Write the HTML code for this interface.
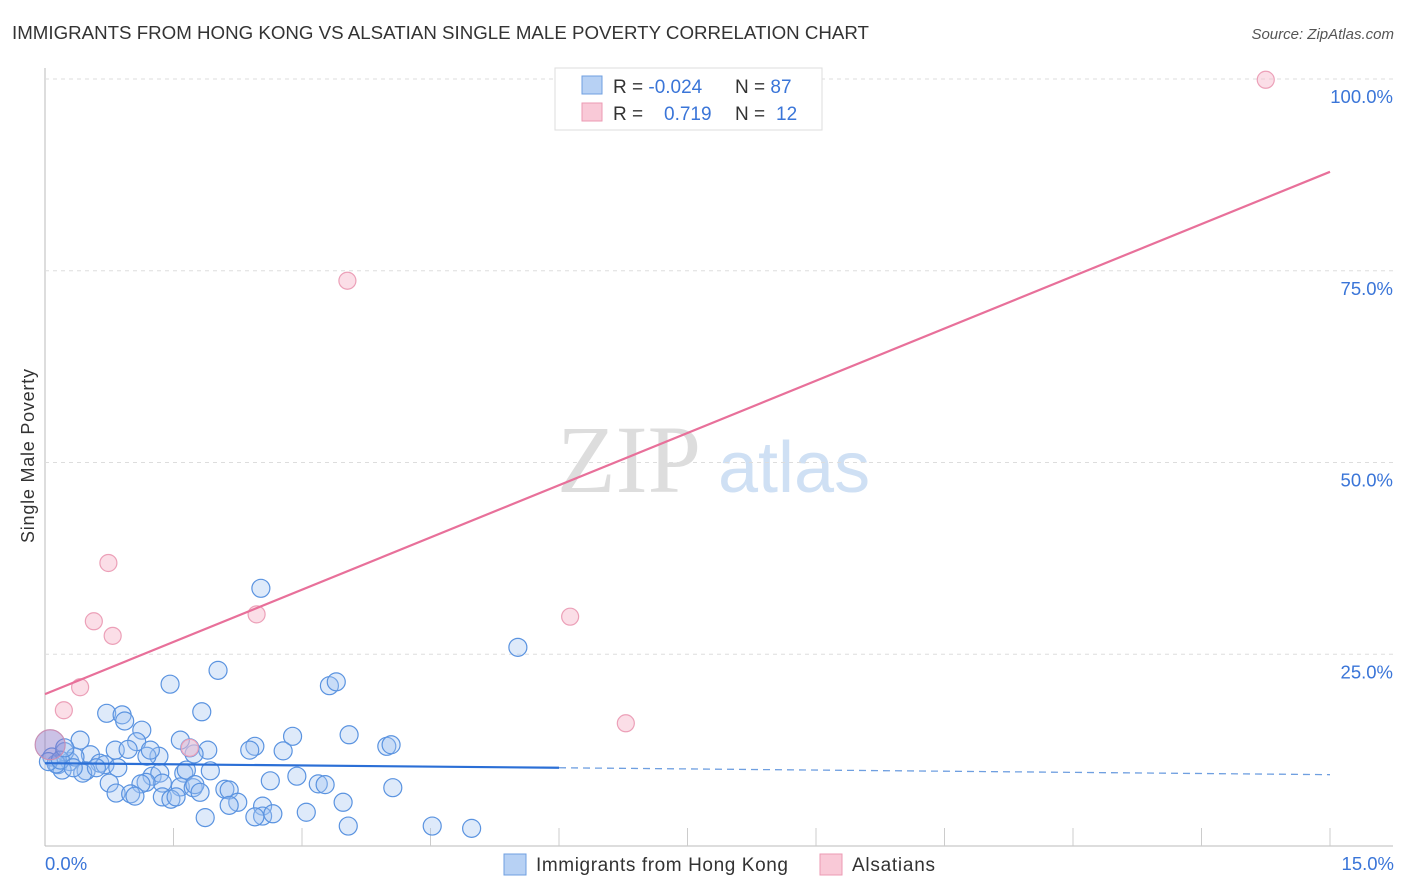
<!DOCTYPE html>
<html><head><meta charset="utf-8">
<style>
body{margin:0;background:#fff;font-family:"Liberation Sans",sans-serif;}
svg{display:block}
</style></head>
<body>
<svg id="c" width="1406" height="892" xmlns="http://www.w3.org/2000/svg">
<text x="12" y="39" font-size="18" fill="#333" textLength="857" lengthAdjust="spacingAndGlyphs">IMMIGRANTS FROM HONG KONG VS ALSATIAN SINGLE MALE POVERTY CORRELATION CHART</text>
<text x="1394" y="39" font-size="15" fill="#555" font-style="italic" text-anchor="end">Source: ZipAtlas.com</text>
<text transform="translate(34,456) rotate(-90)" font-size="18" fill="#333" text-anchor="middle" textLength="174">Single Male Poverty</text>
<g>
<text x="557" y="492" font-size="96" fill="#ddd" font-family="Liberation Serif,serif">ZIP</text>
<text x="718" y="492" font-size="72" fill="#cfe0f4">atlas</text>
</g>
<g id="grid"></g>
<g id="marks"></g>
<g>
<rect x="555" y="68" width="267" height="62" fill="#fff" stroke="#ddd"/>
<rect x="582" y="76" width="20" height="18" fill="#b7d1f4" stroke="#6f9fe0"/>
<rect x="582" y="103" width="20" height="18" fill="#f9c9d7" stroke="#ec9ab3"/>
<text x="613" y="93" font-size="19" fill="#333">R = <tspan fill="#3a75d8">-0.024</tspan></text>
<text x="735" y="93" font-size="19" fill="#333">N = <tspan fill="#3a75d8">87</tspan></text>
<text x="613" y="120" font-size="19" fill="#333">R = <tspan fill="#3a75d8" x="664">0.719</tspan></text>
<text x="735" y="120" font-size="19" fill="#333">N = <tspan fill="#3a75d8" x="776">12</tspan></text>
</g>
<g>
<rect x="504" y="854" width="22" height="21" fill="#b7d1f4" stroke="#6f9fe0"/>
<text x="536" y="871" font-size="19" fill="#333" textLength="252">Immigrants from Hong Kong</text>
<rect x="820" y="854" width="22" height="21" fill="#f9c9d7" stroke="#ec9ab3"/>
<text x="852" y="871" font-size="19" fill="#333" textLength="83">Alsatians</text>
</g>
</svg>
<script>
const blueX=[2.52,5.52,2.02,1.46,3.32,3.40,0.72,1.83,0.90,0.93,1.13,3.55,2.89,0.41,1.07,3.99,4.04,2.45,2.39,2.78,1.90,0.82,0.97,1.33,1.19,1.74,1.69,0.15,0.08,0.29,0.53,0.23,0.35,0.64,0.70,0.48,0.20,0.85,1.25,1.34,1.62,1.65,1.93,2.94,3.19,3.27,2.63,1.58,1.37,1.18,1.12,2.10,1.73,1.75,0.44,0.75,0.83,1.00,1.05,1.37,1.47,1.53,2.15,1.81,2.25,2.15,2.54,3.48,4.06,2.54,2.45,2.66,1.87,3.05,3.54,4.52,4.98,0.13,0.04,0.18,0.33,0.60,1.23,1.58,0.23];
const blueY=[33.6,25.9,22.9,21.1,20.9,21.4,17.3,17.5,17.1,16.3,15.1,14.5,14.3,13.8,13.6,13.0,13.2,13.0,12.5,12.4,12.5,12.5,12.6,11.7,11.7,12.0,12.8,10.6,11.6,11.0,11.9,12.3,11.6,10.8,10.6,9.8,9.9,10.2,9.1,9.5,9.5,9.9,9.8,9.1,8.1,8.0,8.5,7.7,8.2,8.3,8.1,7.4,7.6,8.0,9.5,8.2,6.9,6.8,6.5,6.4,6.1,6.4,7.3,7.0,5.7,5.3,5.2,5.7,7.6,3.9,3.8,4.2,3.7,4.4,2.6,2.6,2.3,10.7,11.0,11.2,10.2,10.2,12.5,13.8,12.8];
const pinkX=[14.25,3.53,0.74,0.57,0.79,2.47,6.13,0.41,0.22,6.78,1.69];
const pinkY=[99.9,73.7,36.9,29.3,27.4,30.2,29.9,20.7,17.7,16.0,12.8];
const bigX=[0.06], bigY=[13.2];
const pinkTrend=[19.8,87.9];
const blueTrend=[10.8,9.3];
const yTicks=[25,50,75,100];
const xTickLabels=["0.0%","15.0%"];
const NS="http://www.w3.org/2000/svg";
const X0=45,X1=1330,Y0=846,Y1=79;
function sx(v){return X0+(v/15)*(X1-X0);}
function sy(v){return Y0-(v/100)*(Y0-Y1);}
function mk(t,a,p){const e=document.createElementNS(NS,t);for(const k in a)e.setAttribute(k,a[k]);p.appendChild(e);return e;}
const grid=document.getElementById('grid'),marks=document.getElementById('marks');
let ax=mk('line',{x1:X0,y1:68,x2:X0,y2:Y0,stroke:'#bbb'},grid);


let bx=mk('line',{x1:X0,y1:Y0,x2:1393,y2:Y0,stroke:'#bbb'},grid);


yTicks.forEach(t=>{
 const g=mk('line',{x1:X0,y1:sy(t),x2:1393,y2:sy(t),stroke:'#ddd','stroke-dasharray':'4,4'},grid);
 
 
 const l=mk('text',{x:1393,y:sy(t)+24,'font-size':18.5,fill:'#3a75d8','text-anchor':'end'},grid);
 l.textContent=t.toFixed(1)+'%';
 
 
});
for(let i=1;i<=10;i++){
 const tk=mk('line',{x1:sx(i*1.5),y1:Y0-18,x2:sx(i*1.5),y2:Y0,stroke:'#ccc'},grid);
 
 
}
const xl0=mk('text',{x:45,y:870,'font-size':18.5,fill:'#3a75d8'},grid);xl0.textContent=xTickLabels[0];


const xl1=mk('text',{x:1394,y:870,'font-size':18.5,fill:'#3a75d8','text-anchor':'end'},grid);xl1.textContent=xTickLabels[1];


blueX.forEach((v,i)=>{
 const c=mk('circle',{cx:sx(v),cy:sy(blueY[i]),r:9,fill:'rgba(160,196,240,0.35)',stroke:'#5a93e0','stroke-width':1.2},marks);
 
 
});
pinkX.forEach((v,i)=>{
 const c=mk('circle',{cx:sx(v),cy:sy(pinkY[i]),r:8.5,fill:'rgba(248,190,208,0.5)',stroke:'#eca0b8','stroke-width':1.2},marks);
 
 
});
bigX.forEach((v,i)=>{
 const c=mk('circle',{cx:sx(v),cy:sy(bigY[i]),r:15,fill:'rgba(140,120,200,0.45)',stroke:'#c88fb5','stroke-width':1.2},marks);
 
 
});
const bt=(x)=>blueTrend[0]+(blueTrend[1]-blueTrend[0])*x/15;
const b1=mk('line',{x1:sx(0),y1:sy(bt(0)),x2:sx(6),y2:sy(bt(6)),stroke:'#2b6fd6','stroke-width':2.2},marks);


const b2=mk('line',{x1:sx(6),y1:sy(bt(6)),x2:sx(15),y2:sy(bt(15)),stroke:'#6f9fe0','stroke-width':1.3,'stroke-dasharray':'7,5'},marks);


const p1=mk('line',{x1:sx(0),y1:sy(pinkTrend[0]),x2:sx(15),y2:sy(pinkTrend[1]),stroke:'#e8709a','stroke-width':2.2},marks);


</script>
</body></html>
